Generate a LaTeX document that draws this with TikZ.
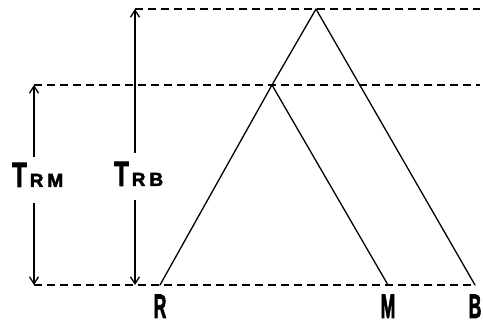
\documentclass[tikz,border=0pt]{standalone}
\usepackage{fontspec}
\usepackage{graphicx}
\setsansfont{Liberation Sans}
\newfontfamily\heavyfont[BoldFeatures={FakeBold=2.5}]{Liberation Sans}
\usetikzlibrary{arrows.meta}
\tikzset{
  tree branch/.style={
    line width=1.3pt,
    line cap=round,
    line join=round
  },
  level line/.style={
    line width=1.4pt,
    dash pattern=on 8pt off 5pt
  },
  time arrow/.style={
    line width=1.1pt,
    -{Straight Barb[length=7pt,width=9pt,line width=1.3pt]}
  },
  leaf label/.style={
    font=\heavyfont\bfseries\fontsize{34}{34}\selectfont,
    inner sep=0pt,
    anchor=base
  },
  time label/.style={
    font=\heavyfont\bfseries,
    inner sep=0pt,
    anchor=base west
  }
}
\newcommand{\leafsym}[1]{\scalebox{0.52}[1]{#1}}
\newcommand{\timesym}[2]{\scalebox{0.68}[1]{\fontsize{35}{35}\selectfont T}\hspace{3pt}{\fontsize{19}{19}\selectfont #1\hspace{4pt}#2}}

\begin{document}
\begin{tikzpicture}[x=1pt,y=-1pt]
  \useasboundingbox (0,0) rectangle (483,326);

  % tree
  \coordinate (apex) at (316,9);
  \coordinate (split) at (272,85);
  \coordinate (r) at (160,285);
  \coordinate (m) at (388,285);
  \coordinate (b) at (475,285);

  \draw[tree branch] (apex) -- (split) -- (r);
  \draw[tree branch] (split) -- (m);
  \draw[tree branch] (apex) -- (b);

  % levels
  \coordinate (top left) at (135,9);
  \coordinate (top right) at (480,9);
  \coordinate (mid left) at (34,85);
  \coordinate (mid right) at (480,85);
  \coordinate (low left) at (34,285);
  \coordinate (low right) at (475,285);

  \draw[level line] (top left) -- (top right);
  \draw[level line] (mid left) -- (mid right);
  \draw[level line] (low left) -- (low right);

  % leaves
  \node[leaf label] (lab r) at (160,318) {\leafsym{R}};
  \node[leaf label] (lab m) at (388,318) {\leafsym{M}};
  \node[leaf label] (lab b) at (475,318) {\leafsym{B}};

  % times
  \node[time label] (trm) at (12,187) {\timesym{R}{M}};
  \node[time label] (trb) at (114,186) {\timesym{R}{B}};

  \coordinate (trm up) at (34,157);
  \coordinate (trm down) at (34,203);
  \coordinate (trb up) at (135,153);
  \coordinate (trb down) at (135,200);
  \coordinate (trb top) at (135,9);
  \coordinate (trb low) at (135,285);

  \draw[time arrow] (trm up) -- (mid left);
  \draw[time arrow] (trm down) -- (low left);
  \draw[time arrow] (trb up) -- (trb top);
  \draw[time arrow] (trb down) -- (trb low);

\end{tikzpicture}
\end{document}
